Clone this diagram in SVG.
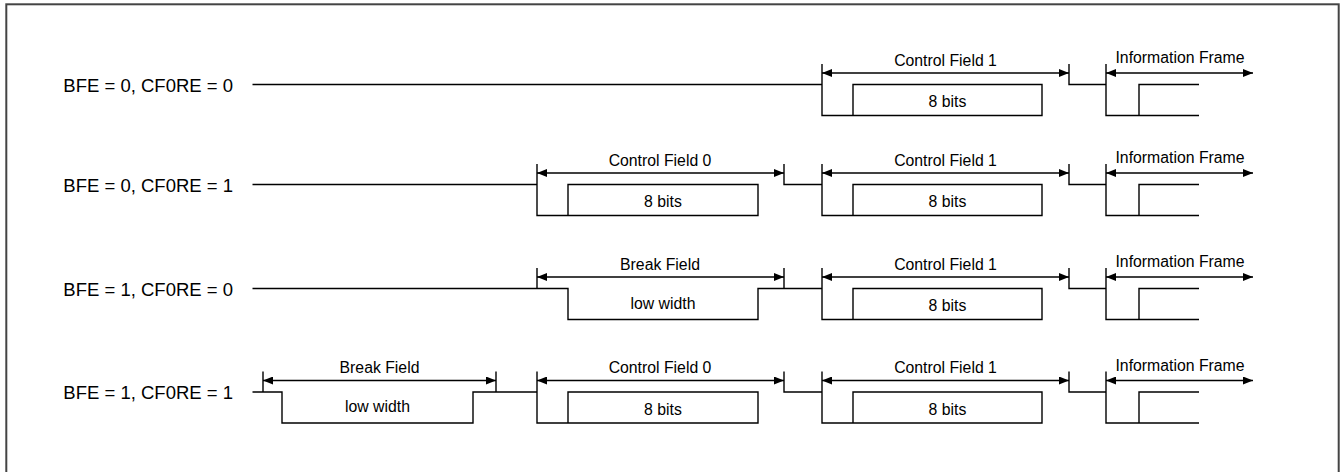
<svg xmlns="http://www.w3.org/2000/svg" width="1341" height="472" viewBox="0 0 1341 472">
<defs>
<marker id="ah" markerUnits="userSpaceOnUse" markerWidth="10" markerHeight="8" refX="10" refY="4" orient="auto-start-reverse">
<path d="M0,0 L10,4 L0,8 z" fill="#000"/>
</marker>
<style>
.sig{fill:none;stroke:#000;stroke-width:1.4}
.arr{fill:none;stroke:#000;stroke-width:1.4;marker-start:url(#ah);marker-end:url(#ah)}
.arr1{fill:none;stroke:#000;stroke-width:1.4;marker-start:url(#ah);marker-end:url(#ah)}
.row{font-family:"Liberation Sans",Arial,sans-serif;font-size:18.5px;fill:#000}
.lab{font-family:"Liberation Sans",Arial,sans-serif;font-size:15.8px;fill:#000;text-anchor:middle}
</style>
</defs>
<rect x="6.3" y="4.3" width="1332.4" height="480" fill="#fff" stroke="#444" stroke-width="2"/>

<!-- Row 1 -->
<g id="row1">
<text class="row" x="233" y="91.7" text-anchor="end">BFE = 0, CF0RE = 0</text>
<g id="row1-cf1">
<text class="lab" x="945.5" y="65.5">Control Field 1</text>
<text class="lab" x="947.5" y="107">8 bits</text>
</g>
<g id="row1-info">
<text class="lab" x="1180" y="63">Information Frame</text>
</g>
</g>
<!-- Row 2 -->
<g id="row2">
<text class="row" x="233" y="191.7" text-anchor="end">BFE = 0, CF0RE = 1</text>
<g id="row2-cf0">
<text class="lab" x="660" y="165.5">Control Field 0</text>
<text class="lab" x="663" y="207">8 bits</text>
</g>
<g id="row2-cf1">
<text class="lab" x="945.5" y="165.5">Control Field 1</text>
<text class="lab" x="947.5" y="207">8 bits</text>
</g>
<g id="row2-info">
<text class="lab" x="1180" y="163">Information Frame</text>
</g>
</g>
<!-- Row 3 -->
<g id="row3">
<text class="row" x="233" y="295.7" text-anchor="end">BFE = 1, CF0RE = 0</text>
<g id="row3-break">
<text class="lab" x="660" y="269.5">Break Field</text>
<text class="lab" x="663" y="309">low width</text>
</g>
<g id="row3-cf1">
<text class="lab" x="945.5" y="269.5">Control Field 1</text>
<text class="lab" x="947.5" y="311">8 bits</text>
</g>
<g id="row3-info">
<text class="lab" x="1180" y="267">Information Frame</text>
</g>
</g>
<!-- Row 4 -->
<g id="row4">
<text class="row" x="233" y="399.2" text-anchor="end">BFE = 1, CF0RE = 1</text>
<g id="row4-break">
<text class="lab" x="379.5" y="373">Break Field</text>
<text class="lab" x="377.5" y="412.3">low width</text>
</g>
<g id="row4-cf0">
<text class="lab" x="660" y="373">Control Field 0</text>
<text class="lab" x="663" y="414.5">8 bits</text>
</g>
<g id="row4-cf1">
<text class="lab" x="945.5" y="373">Control Field 1</text>
<text class="lab" x="947.5" y="414.5">8 bits</text>
</g>
<g id="row4-info">
<text class="lab" x="1180" y="370.5">Information Frame</text>
</g>
</g>

<g id="connectors">
<!-- Row 1: h=84.5 top=64 arrow=73 low=115.5 -->
<path class="sig" d="M252.5,84.5 H822 M822,64 V115.5 H1042 V84.5 H853 V115.5 M1069,64 V84.5 H1106 M1106,64 V115.5 H1199 M1139,115.5 V84.5 H1199"/>
<path class="arr" d="M822,73 H1069"/>
<path class="arr" d="M1106,73 H1253"/>

<!-- Row 2: h=184.5 top=164 arrow=173 low=215.5 -->
<path class="sig" d="M252.5,184.5 H537 M537,164 V215.5 H758 V184.5 H568 V215.5 M784,164 V184.5 H822 M822,164 V215.5 H1042 V184.5 H853 V215.5 M1069,164 V184.5 H1106 M1106,164 V215.5 H1199 M1139,215.5 V184.5 H1199"/>
<path class="arr" d="M537,173 H784"/>
<path class="arr" d="M822,173 H1069"/>
<path class="arr" d="M1106,173 H1253"/>

<!-- Row 3: h=288.5 top=268 arrow=277 low=319.5 -->
<path class="sig" d="M252.5,288.5 H568 V319.5 H758 V288.5 H822 M537,268 V288.5 M784,268 V288.5 M822,268 V319.5 H1042 V288.5 H853 V319.5 M1069,268 V288.5 H1106 M1106,268 V319.5 H1199 M1139,319.5 V288.5 H1199"/>
<path class="arr" d="M537,277 H784"/>
<path class="arr" d="M822,277 H1069"/>
<path class="arr" d="M1106,277 H1253"/>

<!-- Row 4: h=392 top=371.5 arrow=380.5 low=423 -->
<path class="sig" d="M252.5,392 H282 V423 H473 V392 H537 M263,371.5 V392 M496,371.5 V392 M537,371.5 V423 H758 V392 H568 V423 M784,371.5 V392 H822 M822,371.5 V423 H1042 V392 H853 V423 M1069,371.5 V392 H1106 M1106,371.5 V423 H1199 M1139,423 V392 H1199"/>
<path class="arr" d="M263,380.5 H496"/>
<path class="arr" d="M537,380.5 H784"/>
<path class="arr" d="M822,380.5 H1069"/>
<path class="arr" d="M1106,380.5 H1253"/>
</g>
</svg>
